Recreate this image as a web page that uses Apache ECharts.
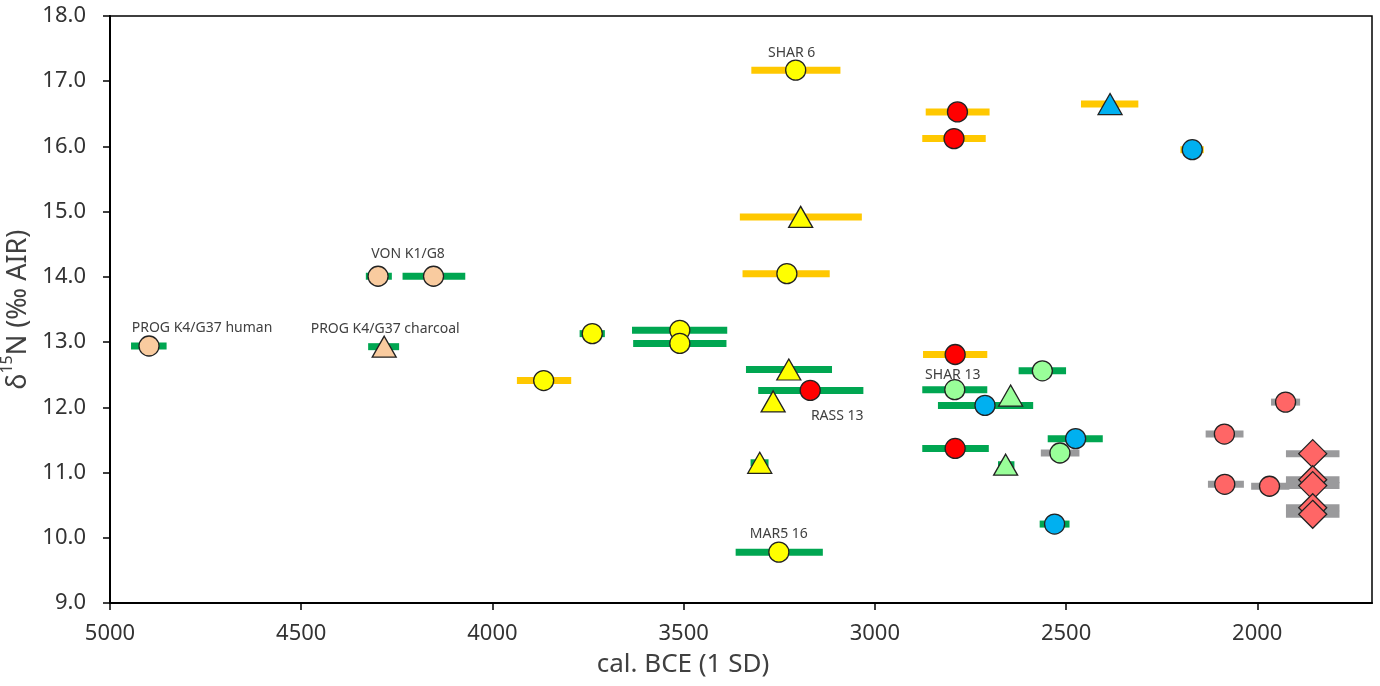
<!DOCTYPE html>
<html>
<head>
<meta charset="utf-8">
<script src="https://cdn.jsdelivr.net/npm/echarts@6/dist/echarts.min.js"></script>
<style>
html,body{margin:0;padding:0;background:#fff;}
#chart{width:1380px;height:686px;}
</style>
</head>
<body>
<div id="chart"></div>
<script>
// ---- data (x = cal. BCE, y = δ15N) ----
const xTickValues = [2000, 2500, 3000, 3500, 4000, 4500, 5000];
const yTickValues = [9, 10, 11, 12, 13, 14, 15, 16, 17, 18];

const peachCircle = [[4898, 12.94], [4299, 14.01], [4154, 14.01]];
const peachTriangle = [[4283, 12.93]];
const yellowCircle = [[3866, 12.41], [3739, 13.13], [3510, 13.18], [3510, 12.98], [3207, 17.17], [3230, 14.05], [3251, 9.78]];
const yellowTriangle = [[3225, 12.58], [3266, 12.09], [3301, 11.15], [3194, 14.92]];
const redCircle = [[3169, 12.26], [2790, 12.81], [2784, 16.53], [2793, 16.12], [2790, 11.37]];
const lightGreenCircle = [[2791, 12.27], [2562, 12.56], [2516, 11.30]];
const lightGreenTriangle = [[2645, 12.18], [2658, 11.12]];
const blueCircle = [[2712, 12.03], [2475, 11.52], [2530, 10.21], [2170, 15.95]];
const blueTriangle = [[2385, 16.65]];
const pinkCircle = [[1926, 12.08], [2086, 11.59], [2085, 10.82], [1968, 10.79]];
const pinkDiamond = [[1855, 11.29], [1855, 10.89], [1855, 10.80], [1855, 10.46], [1855, 10.36]];

// error bars: [from, to, y]
const greenBars = [
  [4945, 4852, 12.94], [4331, 4263, 14.01], [4235, 4071, 14.01], [4325, 4244, 12.93],
  [3772, 3706, 13.13], [3635, 3386, 13.18], [3632, 3388, 12.98], [3337, 3112, 12.58],
  [3305, 3030, 12.26], [3325, 3278, 11.15], [2876, 2706, 12.27], [2624, 2500, 12.56],
  [2835, 2586, 12.03], [2876, 2702, 11.37], [2678, 2635, 11.12], [2548, 2404, 11.52],
  [2569, 2491, 10.21], [3364, 3136, 9.78]
];
const goldBars = [
  [3936, 3794, 12.41], [3323, 3090, 17.17], [2867, 2700, 16.53], [2876, 2710, 16.12],
  [2461, 2311, 16.65], [2201, 2140, 15.95], [3353, 3034, 14.92], [3346, 3118, 14.05],
  [2874, 2706, 12.81]
];
const grayBars = [
  [2566, 2465, 11.30], [1964, 1888, 12.08], [2135, 2036, 11.59], [2129, 2035, 10.82],
  [2016, 1916, 10.79], [1925, 1785, 11.29], [1925, 1785, 10.89], [1925, 1785, 10.80],
  [1925, 1785, 10.46], [1925, 1785, 10.36]
];

// annotations: [series name, point index, text, offsetX, offsetY]
const annotations = [
  ['peachCircle', 0, 'PROG K4/G37 human', 53, -18],
  ['peachCircle', 1, 'VON K1/G8', 30, -22],
  ['peachTriangle', 0, 'PROG K4/G37 charcoal', 1, -18],
  ['yellowCircle', 4, 'SHAR 6', -4, -17],
  ['redCircle', 0, 'RASS 13', 27, 26],
  ['lightGreenCircle', 0, 'SHAR 13', -2, -15],
  ['yellowCircle', 6, 'MAR5 16', 0, -18]
];

const FONT = 'Noto Sans';
const chart = echarts.init(document.getElementById('chart'), null, {renderer: 'canvas'});

function barSeries(data, color) {
  return {
    type: 'custom',
    data: data,
    z: 1,
    silent: true,
    encode: {x: [0, 1], y: 2},
    renderItem: function (params, api) {
      const p1 = api.coord([api.value(0), api.value(2)]);
      const p2 = api.coord([api.value(1), api.value(2)]);
      return {
        type: 'rect',
        shape: {x: Math.min(p1[0], p2[0]), y: p1[1] - 3.5, width: Math.abs(p2[0] - p1[0]), height: 7},
        style: {fill: color}
      };
    }
  };
}

function markerSeries(name, data, color, symbol, size) {
  const items = data.map(function (d, i) {
    const item = {value: d};
    annotations.forEach(function (a) {
      if (a[0] === name && a[1] === i) {
        item.label = {
          show: true, position: 'inside', formatter: a[2], offset: [a[3], a[4]],
          color: '#404040', fontSize: 14, fontFamily: FONT
        };
      }
    });
    return item;
  });
  return {
    name: name,
    type: 'scatter',
    data: items,
    z: 3,
    symbol: symbol,
    symbolSize: size,
    itemStyle: {color: color, borderColor: '#222', borderWidth: 1.3, opacity: 1},
    label: {show: false},
    emphasis: {disabled: true}
  };
}

const option = {
  animation: false,
  backgroundColor: '#fff',
  grid: {
    left: 110, right: 8, top: 16, bottom: 83, containLabel: false, outerBoundsMode: 'none',
    show: true, borderColor: '#000', borderWidth: 1.5, backgroundColor: 'transparent'
  },
  xAxis: {
    type: 'value', inverse: true, min: 1700, max: 5000,
    name: 'cal. BCE (1 SD)', nameLocation: 'middle', nameGap: 49,
    nameTextStyle: {fontSize: 26, color: '#404040', fontFamily: FONT, padding: [0, 116, 0, 0]},
    axisLine: {show: true, lineStyle: {color: '#000', width: 2}},
    axisTick: {show: true, length: 7, lineStyle: {color: '#000', width: 1.5}, customValues: xTickValues},
    axisLabel: {fontSize: 22, color: '#333', fontFamily: FONT, margin: 20, customValues: xTickValues, formatter: function (v) { return String(v); }},
    splitLine: {show: false}
  },
  yAxis: {
    type: 'value', min: 9, max: 18, interval: 1,
    name: '{a|δ}{s|15}{a|N (‰ AIR)}', nameLocation: 'middle', nameGap: 62, nameRotate: 90,
    nameTextStyle: {
      color: '#404040', fontFamily: FONT,
      rich: {
        a: {fontSize: 27, color: '#404040', fontFamily: FONT, verticalAlign: 'bottom', lineHeight: 32},
        s: {fontSize: 16, color: '#404040', fontFamily: FONT, verticalAlign: 'top', lineHeight: 32}
      }
    },
    axisLine: {show: true, lineStyle: {color: '#000', width: 2}},
    axisTick: {show: true, length: 7, lineStyle: {color: '#000', width: 1.5}},
    axisLabel: {fontSize: 22, color: '#333', fontFamily: FONT, margin: 24, formatter: function (v) { return v.toFixed(1); }},
    splitLine: {show: false}
  },
  series: [
    barSeries(greenBars, '#00A651'),
    barSeries(goldBars, '#FFC800'),
    barSeries(grayBars, '#9A9A9C'),
    markerSeries('peachCircle', peachCircle, '#F9CB9F', 'circle', 20),
    markerSeries('peachTriangle', peachTriangle, '#F9CB9F', 'triangle', [24, 21]),
    markerSeries('yellowCircle', yellowCircle, '#FFFF00', 'circle', 20),
    markerSeries('yellowTriangle', yellowTriangle, '#FFFF00', 'triangle', [24, 21]),
    markerSeries('redCircle', redCircle, '#FF0000', 'circle', 20),
    markerSeries('lightGreenCircle', lightGreenCircle, '#99FF99', 'circle', 20),
    markerSeries('lightGreenTriangle', lightGreenTriangle, '#99FF99', 'triangle', [24, 21]),
    markerSeries('blueCircle', blueCircle, '#00B0F0', 'circle', 20),
    markerSeries('blueTriangle', blueTriangle, '#00B0F0', 'triangle', [24, 21]),
    markerSeries('pinkCircle', pinkCircle, '#FF6666', 'circle', 20),
    markerSeries('pinkDiamond', pinkDiamond, '#FF6666', 'diamond', 28)
  ]
};
chart.setOption(option);
</script>
</body>
</html>
